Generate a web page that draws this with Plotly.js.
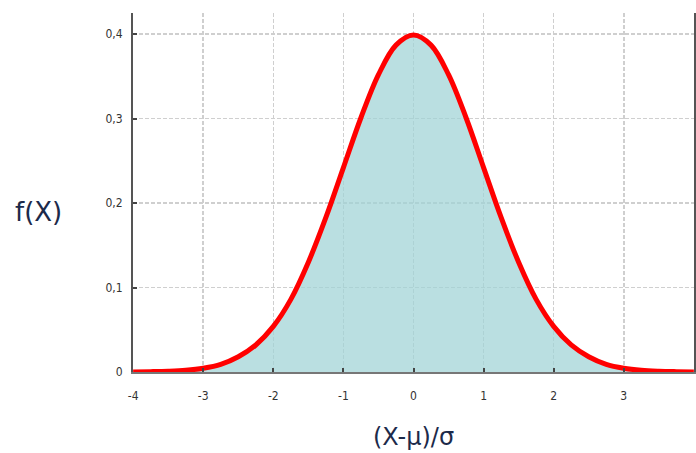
<!DOCTYPE html>
<html>
<head>
<meta charset="utf-8">
<script src="https://cdn.plot.ly/plotly-3.0.1.min.js"></script>
<style>html,body{margin:0;padding:0;background:#fff;}#chart{width:696px;height:453px;}</style>
</head>
<body>
<div id="chart"></div>
<script>
const zValues = [-4, -3.75, -3.5, -3.25, -3, -2.75, -2.5, -2.25, -2, -1.75, -1.5, -1.25, -1, -0.75, -0.5, -0.25, 0, 0.25, 0.5, 0.75, 1, 1.25, 1.5, 1.75, 2, 2.25, 2.5, 2.75, 3, 3.25, 3.5, 3.75, 4];
const density = [0.0001, 0.0004, 0.0009, 0.002, 0.0044, 0.009, 0.018, 0.032, 0.054, 0.086, 0.130, 0.183, 0.242, 0.301, 0.352, 0.387, 0.399, 0.387, 0.352, 0.301, 0.242, 0.183, 0.130, 0.086, 0.054, 0.032, 0.018, 0.009, 0.0044, 0.002, 0.0009, 0.0004, 0.0001];
const xTickVals = [-4, -3, -2, -1, 0, 1, 2, 3, 4];
const xTickText = ['-4', '-3', '-2', '-1', '0', '1', '2', '3', '4'];
const yTickVals = [0, 0.1, 0.2, 0.3, 0.4];
const yTickText = ['0', '0,1', '0,2', '0,3', '0,4'];
const xTitle = '(X-μ)/σ';
const yTitle = 'f(X)';

const tickFont = {size: 12, color: '#333', family: 'DejaVu Sans Condensed, DejaVu Sans, sans-serif'};
const trace = {
  x: zValues, y: density, type: 'scatter', mode: 'lines',
  line: {color: '#ff0000', width: 5, shape: 'spline'},
  fill: 'tozeroy', fillcolor: 'rgba(160,210,214,0.72)',
  hoverinfo: 'skip'
};
const gridStyle = {gridcolor: '#cfcfcf', gridwidth: 1.5, griddash: '4px,2px'};
const layout = {
  width: 696, height: 453,
  margin: {l: 133, r: 2, t: 13, b: 81},
  paper_bgcolor: '#fff', plot_bgcolor: '#fff',
  showlegend: false,
  font: {family: 'DejaVu Sans, sans-serif', color: '#333'},
  xaxis: Object.assign({
    range: [-4.002, 4.002], tickvals: xTickVals, ticktext: xTickText,
    showline: true, linecolor: '#777', linewidth: 2,
    ticks: 'inside', ticklen: 4, tickcolor: '#444', tickwidth: 2,
    tickfont: tickFont,
    ticklabelstandoff: 12,
    zeroline: false, showgrid: true,
    title: {text: xTitle, font: {size: 24, color: '#1c2a4a', family: 'DejaVu Sans, sans-serif'}, standoff: 26}
  }, gridStyle),
  yaxis: Object.assign({
    range: [0, 0.425], tickvals: yTickVals, ticktext: yTickText,
    showline: true, linecolor: '#555', linewidth: 2, mirror: true,
    ticks: 'inside', ticklen: 4, tickcolor: '#444', tickwidth: 2,
    tickfont: tickFont,
    ticklabelstandoff: 6,
    zeroline: false, showgrid: true
  }, gridStyle),
  annotations: [{
    text: yTitle, xref: 'paper', yref: 'paper',
    x: (38 - 133) / 561, y: (372 - 212) / 359,
    xanchor: 'center', yanchor: 'middle', showarrow: false,
    font: {size: 26, color: '#1c2a4a', family: 'DejaVu Sans, sans-serif'}
  }]
};
Plotly.newPlot('chart', [trace], layout, {displayModeBar: false, staticPlot: true});
</script>
</body>
</html>
